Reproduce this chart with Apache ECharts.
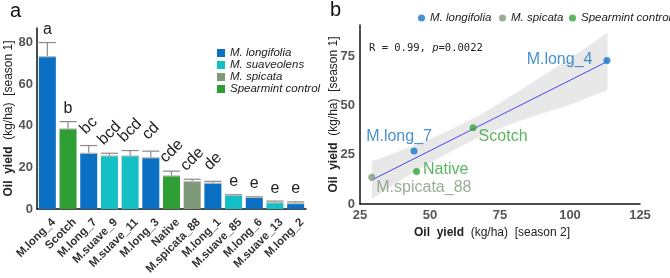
<!DOCTYPE html>
<html>
<head>
<meta charset="utf-8">
<script src="https://cdn.jsdelivr.net/npm/echarts@6/dist/echarts.min.js"></script>
<style>
  body { margin: 0; background: #fff; }
  #a { position: absolute; left: 0; top: 0; width: 335px; height: 278px; }
  #b { position: absolute; left: 315px; top: 0; width: 355px; height: 278px; }
</style>
</head>
<body>
<div id="a"></div>
<div id="b"></div>
<script>
// panel a : oil yield per line (season 1)
var cats = ['M.long_4', 'Scotch', 'M.long_7', 'M.suave_9', 'M.suave_11', 'M.long_3', 'Native',
  'M.spicata_88', 'M.long_1', 'M.suave_85', 'M.long_6', 'M.suave_13', 'M.long_2'];
var groups = ['lon', 'spe', 'lon', 'sua', 'sua', 'lon', 'spe', 'spi', 'lon', 'sua', 'lon', 'sua', 'lon'];
var yieldS1 = [73.2, 38.5, 26.8, 25.5, 25.5, 24.6, 15.9, 13.2, 12.4, 6.6, 5.6, 3.0, 2.6];
var errTop = [80.0, 42.0, 30.5, 26.8, 28.1, 27.8, 18.2, 14.3, 13.3, 6.9, 5.9, 3.8, 3.4];
var letters = ['a', 'b', 'bc', 'bcd', 'bcd', 'cd', 'cde', 'cde', 'de', 'e', 'e', 'e', 'e'];
var yTicksA = [0, 20, 40, 60, 80];

// panel b : season 2 vs season 1
var longPts = [[113.2, 73.0], [44.3, 27.0]];
var longNames = ['M.long_4', 'M.long_7'];
var spiPts = [[29.2, 13.6]];
var spiNames = ['M.spicata_88'];
var spePts = [[65.4, 38.8], [45.2, 16.5]];
var speNames = ['Scotch', 'Native'];
var fitLine = [[29.2, 12.2], [113.4, 72.5]];
var bandX = [29.2, 35, 40, 45, 50, 56, 62, 68, 75, 82, 90, 100, 113.4];
var bandLo = [2.5, 7.8, 12.4, 16.8, 21, 25.6, 30, 34.4, 38.5, 42.2, 46, 50.5, 58];
var bandHi = [21.9, 24.6, 27.4, 30.2, 33, 36.8, 41, 45.4, 51.5, 57.6, 65, 74, 87];

var FONT = 'Liberation Sans, Arial, sans-serif';
var colors = { lon: '#0b6fc4', sua: '#14c0c4', spi: '#7f9a7b', spe: '#2f9f35' };
var groupNames = { lon: 'M. longifolia', sua: 'M. suaveolens', spi: 'M. spicata', spe: 'Spearmint control' };

function barSeries(g) {
  return {
    name: groupNames[g],
    type: 'bar',
    barWidth: 17,
    barGap: '-100%',
    itemStyle: { color: colors[g] },
    data: yieldS1.map(function (v, i) { return groups[i] === g ? v : '-'; }),
    z: 2
  };
}

var axisName = { fontSize: 12, color: '#222', rich: { b: { fontWeight: 'bold', fontSize: 12, color: '#222' } } };

var chartA = echarts.init(document.getElementById('a'));
chartA.setOption({
  animation: false,
  textStyle: { fontFamily: FONT },
  grid: { left: 37, right: 29, top: 28, bottom: 69, outerBoundsMode: 'none' },
  legend: {
    orient: 'vertical', left: 212, top: 42,
    itemWidth: 8, itemHeight: 8, itemGap: 0,
    icon: 'rect',
    textStyle: { fontSize: 11.5, fontStyle: 'italic', color: '#222', fontFamily: FONT },
    data: ['M. longifolia', 'M. suaveolens', 'M. spicata', 'Spearmint control']
  },
  xAxis: {
    type: 'category', data: cats,
    axisLine: { lineStyle: { color: '#111', width: 1.5 } },
    axisTick: { show: false },
    axisLabel: {
      rotate: 45, interval: 0, fontSize: 11.5, fontWeight: 'bold', color: '#333', margin: 5,
      verticalAlign: 'top', padding: [3, 0, 0, 0]
    }
  },
  yAxis: {
    type: 'value', min: 0, max: 87, interval: 20,
    name: '{b|Oil  yield}  (kg/ha)  [season 1]',
    nameLocation: 'middle', nameGap: 22, nameMoveOverlap: false,
    nameTextStyle: axisName,
    axisLine: { show: true, lineStyle: { color: '#111', width: 1.5 } },
    axisTick: { show: false },
    splitLine: { show: false },
    axisLabel: {
      fontSize: 13, fontWeight: 'bold', color: '#555', margin: 4, showMaxLabel: false,
      formatter: function (v) { return yTicksA.indexOf(v) >= 0 ? v : ''; }
    }
  },
  series: [barSeries('lon'), barSeries('sua'), barSeries('spi'), barSeries('spe'), {
    type: 'custom',
    z: 3,
    data: yieldS1.map(function (v, i) { return [i, v, errTop[i]]; }),
    renderItem: function (params, api) {
      var i = params.dataIndex;
      var top = api.coord([api.value(0), api.value(2)]);
      var base = api.coord([api.value(0), api.value(1)]);
      var x = top[0], hw = 8.5;
      var lbl = letters[i];
      var rot = lbl.length > 1;
      return {
        type: 'group',
        children: [
          { type: 'line', shape: { x1: x, y1: top[1], x2: x, y2: base[1] }, style: { stroke: '#8a8a8a', lineWidth: 1.2 } },
          { type: 'line', shape: { x1: x - hw, y1: top[1], x2: x + hw, y2: top[1] }, style: { stroke: '#8a8a8a', lineWidth: 1.2 } },
          { type: 'line', shape: { x1: x - hw, y1: base[1], x2: x + hw, y2: base[1] }, style: { stroke: '#bdbdbd', lineWidth: 1.2 } },
          {
            type: 'text', x: x, y: top[1] - (rot ? 20 : 13), rotation: rot ? Math.PI / 4 : 0,
            style: { text: lbl, x: 0, y: 0, align: 'center', verticalAlign: 'middle', fontSize: 16, fontFamily: FONT, fill: '#222' }
          }
        ]
      };
    }
  }],
  graphic: [{ type: 'text', left: 10, top: 1, style: { text: 'a', fontSize: 20, fontFamily: FONT, fill: '#111' } }]
});

function scatterSeries(name, pts, names, color, labelPos) {
  return {
    name: name,
    type: 'scatter',
    symbolSize: 7,
    itemStyle: { color: color },
    z: 4,
    data: pts.map(function (p, i) {
      var lp = labelPos[names[i]];
      return {
        value: p,
        label: {
          show: true, formatter: names[i], color: color, fontSize: 16, fontFamily: FONT,
          position: lp[0], distance: lp[1], offset: lp[2]
        }
      };
    })
  };
}

var labelPos = {
  'M.long_4': ['left', 11, [0, -1]],
  'M.long_7': ['top', 3, [-15, 0]],
  'M.spicata_88': ['right', 1, [0, 10]],
  'Scotch': ['right', 2, [0, 9]],
  'Native': ['right', 3, [0, -2]]
};

// one legend per entry so the row does not wrap
function legendB(name, left) {
  return {
    left: left, top: 12, padding: 0, itemWidth: 7, itemHeight: 7, icon: 'circle',
    textStyle: { fontSize: 11.5, fontStyle: 'italic', color: '#222', fontFamily: FONT },
    data: [name]
  };
}

var chartB = echarts.init(document.getElementById('b'));
chartB.setOption({
  animation: false,
  textStyle: { fontFamily: FONT },
  grid: { left: 45, right: 30, top: 25, bottom: 74, outerBoundsMode: 'none' },
  legend: [legendB('M. longifolia', 103), legendB('M. spicata', 184), legendB('Spearmint control', 254)],
  xAxis: {
    type: 'value', min: 25, max: 125, interval: 25,
    name: '{b|Oil  yield}  (kg/ha)  [season 2]',
    nameLocation: 'middle', nameGap: 23, nameMoveOverlap: false,
    nameTextStyle: Object.assign({ padding: [0, 16, 0, 0] }, axisName),
    axisLine: { lineStyle: { color: '#111', width: 1.5 } },
    axisTick: { show: false },
    splitLine: { show: false },
    axisLabel: { fontSize: 13, fontWeight: 'bold', color: '#555', margin: 5 }
  },
  yAxis: {
    type: 'value', min: 0, max: 91, interval: 25,
    name: '{b|Oil  yield}  (kg/ha)  [season 1]',
    nameLocation: 'middle', nameGap: 20, nameMoveOverlap: false,
    nameTextStyle: axisName,
    axisLine: { show: true, lineStyle: { color: '#111', width: 1.5 } },
    axisTick: { show: false },
    splitLine: { show: false },
    axisLabel: { fontSize: 13, fontWeight: 'bold', color: '#555', margin: 5, showMaxLabel: false }
  },
  series: [
    {
      type: 'custom', z: 1, silent: true,
      data: [0],
      renderItem: function (params, api) {
        var pts = [];
        bandX.forEach(function (x, i) { pts.push(api.coord([x, bandHi[i]])); });
        for (var i = bandX.length - 1; i >= 0; i--) pts.push(api.coord([bandX[i], bandLo[i]]));
        return { type: 'polygon', shape: { points: pts }, style: { fill: '#e6e6e6', opacity: 0.9 } };
      }
    },
    {
      type: 'line', data: fitLine, symbol: 'none', z: 2,
      lineStyle: { color: '#4747f0', width: 1 }
    },
    scatterSeries('M. longifolia', longPts, longNames, '#1776c6', labelPos),
    scatterSeries('M. spicata', spiPts, spiNames, '#7f9a7b', labelPos),
    scatterSeries('Spearmint control', spePts, speNames, '#33a238', labelPos)
  ],
  graphic: [
    { type: 'text', left: 15, top: 0, style: { text: 'b', fontSize: 20, fontFamily: FONT, fill: '#111' } },
    {
      type: 'text', left: 54, top: 43,
      style: {
        text: 'R = 0.99, {i|p}=0.0022', fontSize: 10.5, fontFamily: 'DejaVu Sans Mono, monospace', fill: '#222',
        rich: { i: { fontStyle: 'italic', fontSize: 10.5, fontFamily: 'DejaVu Sans Mono, monospace', fill: '#222' } }
      }
    }
  ]
});
</script>
</body>
</html>
